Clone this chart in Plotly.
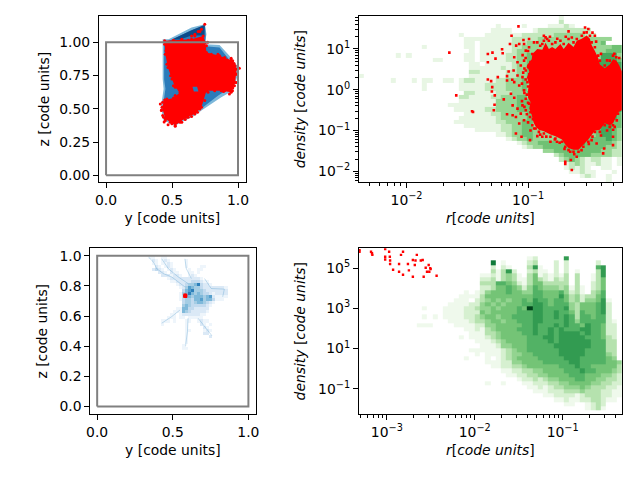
import numpy as np
import plotly.graph_objects as go

# all values
box_x = [0, 1, 1, 0, 0]
box_z = [0, 0, 1, 1, 0]

# top left: gas outline and sink particles, y / z in code units
gas_y = [.429, .474, .648, .748, .761, .748, .86, .935, .993, .993, .96, .873, .723, .673, .524, .436, .416, .436, .429]
gas_z = [1.022, 1.022, 1.11, 1.135, 1.06, .985, .978, .898, .823, .736, .636, .586, .486, .449, .374, .411, .511, .648, .723]
core_y = [.44, .50, .648, .75, .755, .75, .86, .92, .97, .97, .93, .85, .72, .66, .53, .45, .43, .45, .44]
core_z = [1.0, 1.02, 1.09, 1.125, 1.05, .97, .96, .885, .81, .74, .65, .60, .50, .46, .39, .42, .51, .65, .72]
dark_y = [.50, .648, .748, .745, .648, .56]
dark_z = [1.02, 1.09, 1.13, 1.05, 1.05, 1.02]
patch_y = [.655, .69, .70, .665]
patch_z = [.665, .665, .63, .63]
red_y = [.444, .648, .736, .753, .761, .86, .96, .99, .978, .948, .873, .761, .723, .673, .611, .524, .449, .424, .444, .511, .561, .524, .499, .469, .449]
red_z = [1.01, 1.022, 1.047, .998, .923, .898, .86, .798, .698, .623, .636, .636, .511, .461, .436, .374, .424, .511, .566, .581, .623, .661, .723, .81, .91]
stray_y = [.748, 1.01, .723, .698, .673, .648, .411, .429, .449, .524, .499, .574, .648, .693, .958, .973, .948, .42, .44, .47, .60, .76, .77, .99, .97, .89,
           .461, .511, .574, .623, .673, .711, .736, .761, .798, .848, .898, .948, .978, .985, .988, .96, .935, .898, .823, .773, .748, .711, .661, .623, .561, .486, .436, .419, .429, .461, .524, .554, .511, .489, .461, .454, .444]
stray_z = [1.135, .805, 1.097, 1.08, 1.06, 1.047, .536, .449, .411, .369, .387, .399, .441, .474, .636, .673, .88, .49, .40, .38, .42, .64, 1.0, .76, .84, .63,
           .998, 1.015, 1.022, 1.015, 1.047, 1.08, 1.01, .973, .91, .91, .885, .865, .823, .761, .698, .656, .611, .636, .636, .623, .561, .499, .474, .436, .399, .399, .436, .486, .549, .574, .599, .641, .673, .748, .835, .935, .985]

# bottom left: density levels, first row is the top one
blue_rows = [
    "",
    "1100110000000000000000000000",
    "0210121000001",
    "0110112100001",
    "0021012100001000011",
    "023210121000010011",
    "00022102110001101",
    "0000222122100121",
    "000000122222222221",
    "00000001122222333211",
    "000000000122344573221",
    "00000000001246544322222221",
    "00000000000356744432222222",
    "00000000001457545433212222",
    "00000000001355455545621111",
    "0000000000134435564553111",
    "0000000000034434554321",
    "000000000004543333321",
    "00000000011553322222",
    "00000000111543222221",
    "0000000110122222211",
    "000000111011011111",
    "00001110100011001211",
    "000010000000100002101",
    "00000000000010000021",
    "000000000000110000121",
    "00000000000010000022",
    "000000000000100000002",
    "0000000000001",
    "0000000000001",
    "000000000001",
    "00000000000110",
]
sink_y = [.578, .582, .586, .58, .585]
sink_z = [.732, .735, .738, .74, .73]

# bottom left: thin gas filaments on top of the levels
fil_a_y = [.34, .373, .394, .438, .492, .536, .58]
fil_a_z = [.991, .958, .914, .882, .86, .827, .794]
fil_b_y = [.427, .471, .536, .601]
fil_b_z = [.98, .914, .86, .816]
fil_c_y = [.58, .59, .623]
fil_c_z = [.98, .914, .849]
fil_d_y = [.601, .597, .584]
fil_d_z = [.586, .498, .399]
fil_e_y = [.667, .721, .758]
fil_e_z = [.586, .52, .471]
fil_f_y = [.427, .492, .547]
fil_f_z = [.553, .596, .64]
fil_g_y = [.71, .754, .841, .83]
fil_g_z = [.849, .783, .779, .728]

# top right: density levels, first row is the top one
halo_rows = [
    "000000000000000000000000000000000000001",
    "000000000000000000000000000000000000002",
    "00000000000000000000000000100001000011121",
    "00000000000000000000000001111000012222222222",
    "000000000000000000010000111111122222233333322",
    "000000000000000000001111111112222233333333333333",
    "00000000000000000000110111111222333333333333334",
    "00000000000010000000110111111223333333333333333344",
    "00000000000000000000010111111233333333333333333444",
    "00000001010000000000110111112233433333333333335553",
    "00000000000000110000110111112233433333333333335554",
    "00000000000000000000011011111233433333333333355555",
    "00000000000000000000011111121233433333333333345555",
    "00000000000000000000022111112233433333333333345555",
    "10000000000000000000011111112233433333333333345555",
    "00000010001011001101221111223334333333333333345555",
    "00000000000010000001111122223334333333333333345555",
    "00000000000010000001111122223334333333333333345555",
    "00000000000000000000221111222333433333333333345555",
    "00000000000000000002211112233344333333333333345555",
    "00000000000000000001111111333344433333333333345555",
    "00000000000000000111111111333344433333333333345555",
    "00000000000000000011111122333344433333333333345555",
    "00000000000000000000111112233333443333333333345554",
    "00000000000000000001111111233333443333333333345554",
    "00000000000000000011111111223334433333333333345544",
    "00000000000000000000111111122334433333333333345544",
    "00000000000000000000001111122334433333333333345543",
    "00000000000000000000000000112334433333333333345543",
    "00000000000000000000000000001233433333333344444543",
    "00000000000000000000000000000012334444445554444432",
    "00000000000000000000000000000001233444444444444332",
    "000000000000000000000000000000000003344444444433221",
    "000000000000000000000000000000000000023444443333221",
    "00000000000000000000000000000000000000234321221101",
    "00000000000000000000000000000000000000012321121101",
    "000000000000000000000000000000000000000121210011",
    "0000000000000000000000000000000000000000112110001",
    "000000000000000000000000000000000000000000121001",
    "000000000000000000000000000000000000000000000001",
]

# bottom right: density levels, first row is the top one
disc_rows = [
    "",
    "",
    "00000000000000000000000000000000" + "12000007",
    "0000000000000000000000000" + "801000023000202" + "00000" + "2",
    "0000000000000000000000000" + "202100037100202" + "00000" + "67",
    "0000000000000000000000000" + "313720023110202" + "01000" + "37",
    "00000000000000000000000" + "112134310351212130300137",
    "00000000000000000000000" + "223134311353213230300135",
    "00000000000000000000000" + "333665421355333330300235",
    "00000000000000000000000" + "223556542465444341310235",
    "00000000000000000000" + "101" + "245556554466555642310346",
    "0000000000000000000" + "1111" + "355555555566555753423356",
    "000000000000000000" + "11102" + "3454545565766566534244571",
    "00000000000000000" + "111122" + "4545455566776566643555672",
    "000000000000" + "1000" + "1111223" + "4454555659" + "776666743555672",
    "0000000000000000" + "1111222" + "5455555666776676653655672",
    "000000000000" + "1010" + "1111223" + "4554556666776676763665662",
    "00000000000000000" + "111123" + "34554556667766667646666621",
    "00000000000" + "111" + "0000" + "11112" + "24455555667666767665766522",
    "00000000000000000000" + "112" + "13455556667667676667766522",
    "000000000000000000000" + "11" + "13345555667667677776766522",
    "0000000000000000000" + "1011" + "12345555566677677777666532",
    "0000000000000000000000" + "1" + "11234555566667677777766633",
    "00000000000000000000000" + "11124455566666777777766633",
    "000000000000000000000" + "11" + "11112345566666677777666633",
    "0000000000000000000000" + "1" + "01112344556666677777666643",
    "00000000000000000000" + "100" + "01012345555666667776666654",
    "000000000000000000000000" + "11122445555666667766666554",
    "0000000000000000000000000" + "1122334555555666766555553",
    "000000000000000000000000000" + "11223344555566676655543",
    "0000000000000000000000000000" + "1122334455556665554432",
    "000000000000000000000000000000" + "12232344555665544332",
    "000000000000000000000000" + "1001" + "000" + "1122233445555443322",
    "00000000000000000000000000000000" + "112123344454333221",
    "000000000000000000000000000000000" + "11122233343332211",
    "00000000000000000000000000000000000" + "112222123332211",
    "0000000000000000000000000000000000000" + "112112233211",
    "000000000000000000000000000000000000000" + "1100" + "1232",
    "0000000000000000000000000000000000000000000" + "1231",
    "",
]

# top right: sink cloud outline and loose points, log10 of r and density
cloud_logr = [-.97, -.965, -.924, -.883, -.856, -.829, -.802, -.775, -.734, -.707, -.667, -.626, -.599, -.558, -.518, -.491, -.477, -.45, -.423, -.409, -.369, -.328, -.301, -.274, -.25, -.228,
              -.228, -.26, -.30, -.328, -.369, -.409, -.45, -.504, -.545, -.585, -.626, -.667, -.694, -.721, -.775, -.816, -.87, -.911, -.938, -.955, -.97, -.99, -.98, -1.0, -1.0, -.99, -1.01, -.99, -1.01]
cloud_logd = [.75, .878, 1.0, .98, 1.15, 1.0, 1.05, 1.0, 1.12, 1.0, 1.15, 1.05, 1.2, 1.25, 1.33, 1.25, 1.1, .95, .78, .62, .53, .62, .75, .72, .6, .45,
              -.5, -.55, -.82, -.87, -.82, -.98, -1.0, -1.22, -1.35, -1.47, -1.47, -1.43, -1.34, -1.22, -1.14, -1.1, -1.02, -.98, -.9, -.8, -.62, -.46, -.3, -.2, 0, .15, .3, .45, .6]
loose_logr = [-1.648, -1.591, -1.461, -1.453, -1.331, -1.293, -1.331, -1.268, -1.214, -1.209, -1.331, -1.304, -1.295, -1.298, -1.274,
              -1.249, -1.2, -1.173, -1.16, -1.173, -1.13, -1.114, -1.276, -1.282, -1.173, -1.136, -1.079, -1.149, -1.098, -1.073,
              -1.033, -1.038, -.992, -.951, -.87, -.843, -.667, -.531, -.504, -.45, -1.114, -1.087, -1.119, -1.087, -1.073,
              -1.141, -1.114, -1.127, -1.087, -1.046, -1.1, -1.06, -1.127, -1.033, -1.073, -1.1, -1.054, -.984, -.924, -.883,
              -.816, -.762, -.694, -.694, -.648, -.64, -.653, -.6, -.382, -.374, -.301, -.301, -.287, -.436, -.477,
              -1.019, -.992, -.965, -.924, -.883, -.856, -.829, -.802, -.775, -.734, -.707, -.667, -.626, -.599, -.558, -.518, -.491, -.477, -.45, -.423, -.409, -.369, -.328, -.301, -.274,
              -1.033, -1.06, -1.019, -1.046, -1.005, -1.033, -1.019, -.992, -1.019, -.984, -.965, -.938,
              -.911, -.87, -.816, -.775, -.721, -.694, -.667, -.626, -.585, -.545, -.504, -.45, -.409, -.369, -.328, -.301, -.26,
              -1.045, -1.02, -1.0, -.98, -1.03, -1.0, -1.04, -.99, -1.02, -1.05, -1.0, -1.03, -1.01, -1.05, -1.0, -1.03, -.98, -1.01, -.96, -1.0, -.95, -.98,
              -.9, -.85, -.78, -.74, -.7, -.62, -.56, -.5, -.47, -.4, -.35, -.3, -.27, -.9, -.87, -.82, -.76, -.69, -.64, -.54, -.47, -.44, -.4, -.35, -.29, -.25]
loose_logd = [.911, -.138, -.528, -.545, .878, .911, .675, .764, .992, .894, .252, .211, .065, -.041, -.138,
              .309, -.236, .333, .447, .228, .244, .187, -.366, -.504, -.602, 1.325, 1.553, 1.122, 1.081, 1.122,
              1.122, 1.22, 1.244, 1.163, 1.325, 1.244, 1.431, 1.528, 1.488, 1.325, .797, .675, .472, .35, .106,
              -.098, -.195, -.382, -.463, -.382, -.667, -.585, -.626, -.748, -.829, -1.073, -1.154, -1.236, -1.138, -1.154,
              -1.276, -1.276, -1.764, -1.821, -1.724, -1.967, -1.52, -1.642, -1.561, -1.439, -1.358, -1.154, -.911, -1.317, -1.236,
              .959, 1.041, .878, 1.163, 1.122, 1.285, 1.203, 1.122, 1.163, 1.203, 1.122, 1.244, 1.163, 1.244, 1.325, 1.407, 1.325, 1.163, 1.041, .837, .715, .593, .715, .837, .797,
              .715, .593, .472, .309, .187, -.016, -.22, -.341, -.504, -.667, -.87, -.951,
              -1.033, -1.073, -1.154, -1.195, -1.276, -1.398, -1.48, -1.52, -1.52, -1.398, -1.276, -1.033, -1.033, -.87, -.911, -.87, -.585,
              .85, .78, .95, .68, .52, .55, .42, .38, .25, .15, .08, -.08, -.12, -.28, -.32, -.42, -.55, -.6, -.72, -.8, -.95, -1.0,
              -1.1, -1.15, -1.22, -1.3, -1.45, -1.58, -1.48, -1.33, -1.15, -1.12, -1.0, -.98, -.75, 1.08, 1.2, 1.3, 1.25, 1.3, 1.28, 1.4, 1.4, 1.18, .88, .72, .88, .78]

# bottom right: sink particles, log10 of r and density
sink_logr = [-3.311, -3.311, -3.18, -3.169, -3.165, -3.019, -2.974, -3.019, -3.019, -2.966, -2.963, -2.963, -2.929, -2.861, -2.861, -2.816, -2.839, -2.816,
             -2.76, -2.749, -2.704, -2.674, -2.682, -2.704, -2.659, -2.614, -2.592, -2.581, -2.558, -2.524, -2.506, -2.502, -2.543, -2.517, -2.434]
sink_logd = [5.9, 5.82, 5.82, 5.74, 5.66, 5.95, 5.82, 5.57, 5.43, 5.57, 5.38, 5.21, 4.92, 5.21, 4.82, 5.82, 5.66, 4.67,
             5.21, 4.89, 5.41, 5.38, 5.16, 4.57, 5.66, 5.38, 5.41, 4.57, 5.02, 5.16, 5.0, 4.95, 4.82, 4.82, 4.62]

GREENS = ['#ffffff', '#eff9ec', '#d6f0d0', '#b5e2ae', '#93d490', '#74c476', '#52b265', '#329b51', '#0f7a3a', '#00441b']
BLUES = ['#ffffff', '#eef5fb', '#dbe9f6', '#c2daee', '#a5cde4', '#7fb9da', '#559fcc', '#2c7fba', '#08519c', '#08306b']
FONT = 'DejaVu Sans'


def scale(colors):
    return [[i / (len(colors) - 1), c] for i, c in enumerate(colors)]


def levels(rows, ncol):
    # turn the digit rows into a z array, bottom row first, blanks stay empty
    z = []
    for row in reversed(rows):
        row = row.ljust(ncol, '0')[:ncol]
        z.append([int(c) if c != '0' else None for c in row])
    return z


def minor_ticks(lo, hi):
    return [d * 10.0**e for e in range(lo, hi) for d in range(2, 10)]


def dom(a, b, size):
    return [a / size, b / size]


def vdom(top, bottom):
    return [1 - bottom / 480, 1 - top / 480]


fig = go.Figure()

# top left
fig.add_trace(go.Scatter(x=gas_y, y=gas_z, fill='toself', fillcolor='#7db8da', mode='none', xaxis='x', yaxis='y'))
fig.add_trace(go.Scatter(x=core_y, y=core_z, fill='toself', fillcolor='#2b7bba', mode='none', xaxis='x', yaxis='y'))
fig.add_trace(go.Scatter(x=dark_y, y=dark_z, fill='toself', fillcolor='#0b4a8a', mode='none', xaxis='x', yaxis='y'))
fig.add_trace(go.Scatter(x=red_y, y=red_z, fill='toself', fillcolor='red', mode='none', xaxis='x', yaxis='y'))
fig.add_trace(go.Scatter(x=patch_y, y=patch_z, fill='toself', fillcolor='#2b7bba', mode='none', xaxis='x', yaxis='y'))
fig.add_trace(go.Scatter(x=red_y + stray_y, y=red_z + stray_z, mode='markers', marker=dict(color='red', size=3), xaxis='x', yaxis='y'))
fig.add_trace(go.Scatter(x=box_x, y=box_z, mode='lines', line=dict(color='grey', width=2), xaxis='x', yaxis='y'))

# top right
r_lo, r_hi, d_lo, d_hi = -2.393, -0.228, -2.268, 1.81
fig.add_trace(go.Heatmap(z=levels(halo_rows, 50),
                         x=10**np.linspace(r_lo, r_hi, 51), y=10**np.linspace(d_lo, d_hi, 41),
                         colorscale=scale(GREENS), zmin=0, zmax=7, showscale=False, xaxis='x2', yaxis='y2'))
fig.add_trace(go.Scatter(x=10**np.array(cloud_logr), y=10**np.array(cloud_logd), fill='toself', fillcolor='red',
                         mode='none', xaxis='x2', yaxis='y2'))
fig.add_trace(go.Scatter(x=10**np.array(loose_logr), y=10**np.array(loose_logd), mode='markers',
                         marker=dict(color='red', size=2.6, symbol='square'), xaxis='x2', yaxis='y2'))

# bottom left
fig.add_trace(go.Heatmap(z=levels(blue_rows, 28),
                         x=0.34 + 0.02 * np.arange(29), y=1.02 - 0.02 * np.arange(33)[::-1],
                         colorscale=scale(BLUES), zmin=0, zmax=9, showscale=False, xaxis='x3', yaxis='y3'))
for fil_y, fil_z in [(fil_a_y, fil_a_z), (fil_b_y, fil_b_z), (fil_c_y, fil_c_z), (fil_d_y, fil_d_z),
                     (fil_e_y, fil_e_z), (fil_f_y, fil_f_z), (fil_g_y, fil_g_z)]:
    fig.add_trace(go.Scatter(x=fil_y, y=fil_z, mode='lines', line=dict(color='rgba(66,146,198,0.3)', width=1), xaxis='x3', yaxis='y3'))
fig.add_trace(go.Scatter(x=sink_y, y=sink_z, mode='markers', marker=dict(color='red', size=3, symbol='square'), xaxis='x3', yaxis='y3'))
fig.add_trace(go.Scatter(x=box_x, y=box_z, mode='lines', line=dict(color='grey', width=2), xaxis='x3', yaxis='y3'))

# bottom right
r2_lo, r2_hi, d2_lo, d2_hi = -3.319, -0.326, -2.27, 5.99
fig.add_trace(go.Heatmap(z=levels(disc_rows, 50),
                         x=10**np.linspace(r2_lo, r2_hi, 51), y=10**np.linspace(d2_lo, d2_hi, 41),
                         colorscale=scale(GREENS), zmin=0, zmax=9, showscale=False, xaxis='x4', yaxis='y4'))
fig.add_trace(go.Scatter(x=10**np.array(sink_logr), y=10**np.array(sink_logd), mode='markers',
                         marker=dict(color='red', size=2.4, symbol='square'), xaxis='x4', yaxis='y4'))

axis = dict(showgrid=False, zeroline=False, showline=True, mirror=True, linecolor='black', linewidth=1.1,
            ticks='outside', ticklen=4.9, tickwidth=1.1, tickcolor='black',
            tickfont=dict(family=FONT, size=13.9, color='black'))
title_font = dict(family=FONT, size=13.9, color='black')


def linear_axis(text, rng, domain, anchor, vals, labels, standoff=6):
    return dict(axis, range=rng, domain=domain, anchor=anchor, tickmode='array', tickvals=vals, ticktext=labels,
                title=dict(text=text, font=title_font, standoff=standoff))


def log_axis(text, rng, domain, anchor, exps, minor=None, standoff=6):
    labels = ['10<sup>' + str(e).replace('-', '\u2212') + '</sup>' for e in exps]
    ax = dict(axis, type='log', range=rng, domain=domain, anchor=anchor, tickmode='array',
              tickvals=[10.0**e for e in exps], ticktext=labels,
              title=dict(text=text, font=title_font, standoff=standoff))
    if minor:
        ax['minor'] = dict(tickmode='array', tickvals=minor, ticks='outside', ticklen=2.8, tickwidth=0.8, tickcolor='black')
    return ax


density_title = '<i>density</i> [<i>code units</i>]'
r_title = '<i>r</i>[<i>code units</i>]'

fig.update_layout(
    width=640, height=480, showlegend=False, margin=dict(l=0, r=0, t=0, b=0),
    plot_bgcolor='white', paper_bgcolor='white', font=dict(family=FONT, size=13.9, color='black'),
    xaxis=linear_axis('y [code units]', [-0.055, 1.06], dom(96, 245, 640), 'y', [0, 0.5, 1], ['0.0', '0.5', '1.0']),
    yaxis=linear_axis('z [code units]', [-0.052, 1.197], vdom(15, 182), 'x', [0, 0.25, 0.5, 0.75, 1], ['0.00', '0.25', '0.50', '0.75', '1.00']),
    xaxis2=log_axis(r_title, [r_lo, r_hi], dom(359.3, 625.7, 640), 'y2', [-2, -1], minor_ticks(-3, 0)),
    yaxis2=log_axis(density_title, [d_lo, d_hi], vdom(15, 182), 'x2', [-2, -1, 0, 1], minor_ticks(-3, 2), standoff=9),
    xaxis3=linear_axis('y [code units]', [-0.046, 1.047], dom(87.3, 254.7, 640), 'y3', [0, 0.5, 1], ['0.0', '0.5', '1.0']),
    yaxis3=linear_axis('z [code units]', [-0.051, 1.05], vdom(248.3, 415), 'x3', [0, 0.2, 0.4, 0.6, 0.8, 1], ['0.0', '0.2', '0.4', '0.6', '0.8', '1.0'], standoff=8),
    xaxis4=log_axis(r_title, [r2_lo, r2_hi], dom(359.3, 625.7, 640), 'y4', [-3, -2, -1], minor_ticks(-4, 0)),
    yaxis4=log_axis(density_title, [d2_lo, d2_hi], vdom(248.3, 415), 'x4', [-1, 1, 3, 5], standoff=9),
)

# the page body has a default margin that would push the figure off the window
fig.write_html("out.html", config={'displayModeBar': False},
               post_script="document.body.style.margin='0';document.body.style.overflow='hidden';")
